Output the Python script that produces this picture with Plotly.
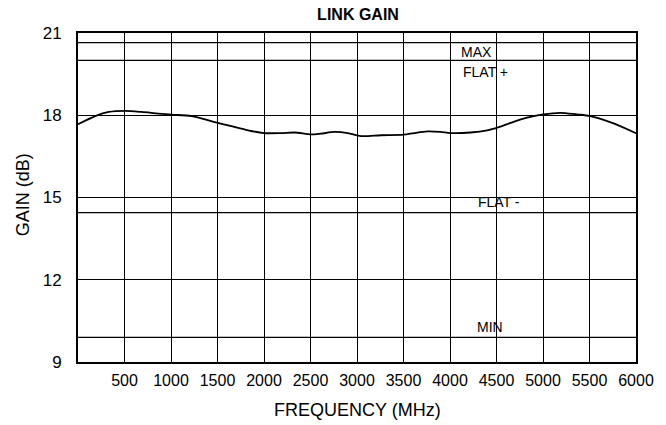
import plotly.graph_objects as go

# Data
freq_mhz = [0, 185, 330, 507, 686, 864, 1007, 1221, 1471, 1650, 1828, 2000, 2186, 2328,
            2507, 2614, 2757, 2900, 3043, 3257, 3500, 3614, 3757, 3900, 4007, 4221,
            4400, 4525, 4650, 4828, 5000, 5186, 5364, 5507, 5721, 5971, 6000]
gain_db = [17.67, 17.97, 18.12, 18.16, 18.12, 18.06, 18.02, 17.97, 17.75, 17.60, 17.45, 17.35,
           17.35, 17.37, 17.30, 17.33, 17.39, 17.35, 17.24, 17.27, 17.29, 17.35, 17.41,
           17.39, 17.35, 17.37, 17.45, 17.57, 17.72, 17.91, 18.03, 18.09, 18.03, 17.97,
           17.75, 17.39, 17.34]

limit_names = ["MAX", "FLAT +", "FLAT -", "MIN"]
limit_values = [20.65, 20.0, 14.45, 9.9]
label_x = [4290, 4386, 4525, 4434]
label_y = [20.3, 19.57, 14.83, 10.27]

x_ticks = [500, 1000, 1500, 2000, 2500, 3000, 3500, 4000, 4500, 5000, 5500, 6000]
y_ticks = [9, 12, 15, 18, 21]

FONT = "Liberation Sans, Arial, sans-serif"

fig = go.Figure()

# reference limit lines
for v in limit_values:
    fig.add_trace(go.Scatter(x=[0, 6000], y=[v, v], mode="lines",
                             line=dict(color="black", width=1.3),
                             hoverinfo="skip", showlegend=False))

fig.add_trace(go.Scatter(x=freq_mhz, y=gain_db, mode="lines",
                         line=dict(color="black", width=1.8, shape="spline", smoothing=0.8),
                         showlegend=False))

for name, xv, yv in zip(limit_names, label_x, label_y):
    fig.add_annotation(x=xv, y=yv, text=name, showarrow=False,
                       font=dict(family=FONT, size=14, color="black"),
                       xanchor="center", yanchor="middle")

fig.add_annotation(x=0.5, y=0, xref="paper", yref="paper", yshift=-48,
                   text="FREQUENCY (MHz)", showarrow=False,
                   font=dict(family=FONT, size=18, color="black"),
                   xanchor="center", yanchor="middle")
fig.add_annotation(x=0, y=0.507, xref="paper", yref="paper", xshift=-55,
                   text="GAIN (dB)", showarrow=False, textangle=-90,
                   font=dict(family=FONT, size=18, color="black"),
                   xanchor="center", yanchor="middle")

W, H = 666, 425
fig.update_layout(
    width=W, height=H,
    margin=dict(l=78, r=28, t=33, b=63),
    paper_bgcolor="white", plot_bgcolor="white",
    title=dict(text="<b>LINK GAIN</b>", x=358 / W, xanchor="center",
               y=1 - 14 / H, yanchor="middle", yref="container",
               font=dict(family=FONT, size=16, color="black")),
    font=dict(family=FONT, color="black"),
)

fig.update_xaxes(range=[0, 6000], tickvals=x_ticks, ticks="", ticklabelstandoff=3,
                 tickfont=dict(family=FONT, size=16, color="black"),
                 showgrid=True, gridcolor="black", gridwidth=1.3,
                 showline=True, linecolor="black", linewidth=2, mirror=True,
                 zeroline=False, fixedrange=True)
fig.update_yaxes(range=[9, 21], tickvals=y_ticks, ticks="", ticklabelstandoff=11,
                 tickfont=dict(family=FONT, size=17, color="black"),
                 showgrid=True, gridcolor="black", gridwidth=1.3,
                 showline=True, linecolor="black", linewidth=2, mirror=True,
                 zeroline=False, fixedrange=True)

# remove the browser's default 8px body margin so the figure fills the window
fig.write_html("out.html", config={"displayModeBar": False},
               post_script="document.body.style.margin='0';")
